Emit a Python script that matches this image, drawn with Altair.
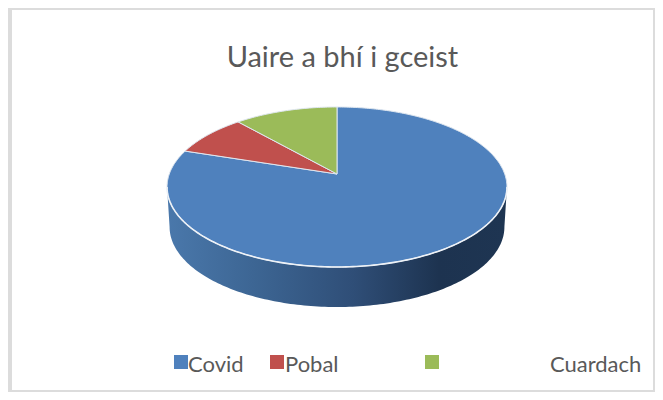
import numpy as np
import pandas as pd
import altair as alt

# Data
categories = ["Covid", "Pobal", "Cuardach"]
values = [80.0, 8.5, 11.5]
colors = ["#4f81bd", "#c0504d", "#9bbb59"]
title_text = "Uaire a bhí i gceist"

# Perspective of the tilted pie, in picture pixels
CX, CY, A, B, K, DEPTH, SHRINK = 337.0, 174.0, 167.7, 77.9, 0.1625, 40.0, 0.985


def project(theta):
    u, v = np.sin(theta), np.cos(theta)
    return CX + A * u / (1 + K * v), CY - B * v / (1 + K * v)


rows = []
start = 0.0
for cat, val in zip(categories, values):
    end = start + val / sum(values) * 2 * np.pi
    th = np.linspace(start, end, max(int(val * 4), 8))
    px, py = project(th)
    px = [CX] + list(px) + [CX]
    py = [CY] + list(py) + [CY]
    for i, (x, y) in enumerate(zip(px, py)):
        rows.append({"cat": cat, "i": i, "x": x, "y": y})
    start = end
slices = pd.DataFrame(rows)

# Wall: the near half of the rim plus the same rim pushed down
tw = np.linspace(np.pi * 0.552, np.pi * 1.448, 160)
xw, yw = project(tw)
xl = CX + (xw - CX) * SHRINK
yl = yw + DEPTH
wall = pd.DataFrame({
    "x": list(xw) + list(xl[::-1]),
    "y": list(yw) + list(yl[::-1]),
    "i": range(2 * len(tw)),
})
rim = pd.DataFrame({"x": xw, "y": yw, "i": range(len(tw))})

sx = alt.Scale(domain=[8, 655], range=[0, 647])
sy = alt.Scale(domain=[392, 8], range=[384, 0])


def X(f):
    return alt.X(f, scale=sx, axis=None)


def Y(f):
    return alt.Y(f, scale=sy, axis=None)


gradient = alt.Gradient(
    gradient="linear", x1=0, x2=1, y1=0, y2=0,
    stops=[
        alt.GradientStop(color="#4a78ab", offset=0),
        alt.GradientStop(color="#3d6694", offset=0.25),
        alt.GradientStop(color="#2f4e77", offset=0.55),
        alt.GradientStop(color="#1d3350", offset=0.8),
        alt.GradientStop(color="#1e3552", offset=1),
    ],
)

wall_layer = alt.Chart(wall).mark_line(fill=gradient, strokeWidth=0).encode(
    x=X("x:Q"), y=Y("y:Q"), order="i:Q"
)

slice_layers = [
    alt.Chart(slices[slices.cat == c]).mark_line(
        fill=col, stroke="#dfe7f0", strokeWidth=1
    ).encode(x=X("x:Q"), y=Y("y:Q"), order="i:Q")
    for c, col in zip(categories, colors)
]

rim_layer = alt.Chart(rim).mark_line(stroke="#eef2f7", strokeWidth=1.6).encode(
    x=X("x:Q"), y=Y("y:Q"), order="i:Q"
)

title_df = pd.DataFrame({"t": [title_text], "x": [342.5], "y": [67.0]})
title_layer = alt.Chart(title_df).mark_text(
    font="Lato", fontSize=29, color="#595959", align="center", baseline="alphabetic"
).encode(x=X("x:Q"), y=Y("y:Q"), text="t:N")

legend_df = pd.DataFrame({
    "cat": categories,
    "sx": [181.0, 277.0, 432.0],
    "sy": [362.0, 362.0, 362.0],
    "tx": [188.0, 285.0, 550.0],
    "ty": [371.5, 371.5, 371.5],
})
swatches = alt.Chart(legend_df).mark_point(shape="square", filled=True, size=196, opacity=1).encode(
    x=X("sx:Q"), y=Y("sy:Q"),
    color=alt.Color("cat:N", scale=alt.Scale(domain=categories, range=colors), legend=None),
)
labels = alt.Chart(legend_df).mark_text(
    font="Lato", fontSize=22, color="#595959", align="left", baseline="alphabetic"
).encode(x=X("tx:Q"), y=Y("ty:Q"), text="cat:N")

frame_v = alt.Chart(pd.DataFrame({"v": [9.0, 11.0, 654.0], "a": [8.0, 8.0, 8.0], "b": [392.0, 392.0, 392.0]})).mark_rule(
    color="#dcdcdc", strokeWidth=2
).encode(x=X("v:Q"), y=Y("a:Q"), y2="b:Q")
frame_h = alt.Chart(pd.DataFrame({"h": [9.0, 391.0], "a": [11.0, 11.0], "b": [655.0, 655.0]})).mark_rule(
    color="#dcdcdc", strokeWidth=2
).encode(y=Y("h:Q"), x=X("a:Q"), x2="b:Q")

chart = alt.layer(
    frame_v, frame_h, wall_layer, *slice_layers, rim_layer, title_layer, swatches, labels
).properties(
    width=647, height=384, padding=0, autosize=alt.AutoSizeParams(type="none"),
).configure_view(stroke=None)

chart.save("out.html", embed_options={"renderer": "svg", "actions": False})
